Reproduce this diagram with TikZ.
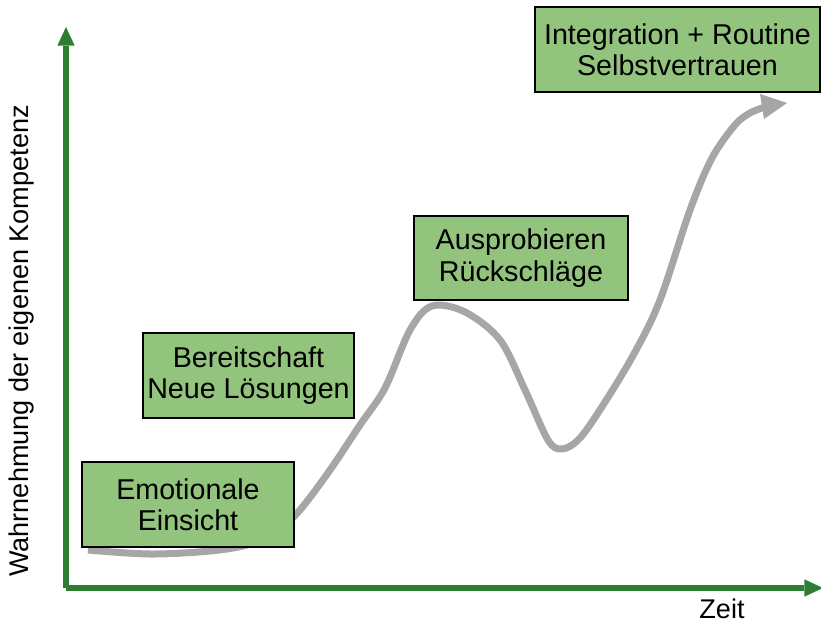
\documentclass[tikz,border=0pt]{standalone}
\usepackage{fontspec}
\setmainfont{Liberation Sans}
\usetikzlibrary{arrows.meta}
\definecolor{axisgreen}{RGB}{46,125,50}
\definecolor{boxgreen}{RGB}{147,196,125}
\definecolor{curvegray}{RGB}{166,166,166}
\tikzset{
  stagebox/.style={draw=black, line width=1pt, fill=boxgreen, align=center,
    font=\fontsize{21.5}{23.5}\selectfont, inner sep=0pt},
  axisline/.style={draw=axisgreen, line width=4.5pt,
    -{Triangle[length=14pt,width=13pt,line width=0pt]}},
  axislabel/.style={font=\fontsize{20.3}{22}\selectfont},
  growth/.style={draw=curvegray, line width=5.25pt},
  growthhead/.style={fill=curvegray, draw=none}
}
\begin{document}
\begin{tikzpicture}[x=0.75pt,y=-0.75pt]
\useasboundingbox (0,0) rectangle (821,623);
% axes
\coordinate (origin) at (66,588);
\coordinate (ytip) at (66,27);
\coordinate (xtip) at (823,588);
\draw[axisline] (origin) -- (ytip);
\draw[axisline] (origin) -- (xtip);
\node[axislabel, rotate=90] (ylab) at (22,341) {Wahrnehmung der eigenen Kompetenz};
\node[axislabel, anchor=base] (xlab) at (722,618) {Zeit};
% curve
\draw[growth] plot[smooth, tension=0.55] coordinates {
  (88,550) (150,554) (210,551) (250,544) (280,528) (300,510) (330,470)
  (360,425) (385,388) (410,330) (432,306) (465,312) (500,340) (525,390)
  (548,440) (562,449) (580,438) (605,402) (635,352) (660,300) (690,210)
  (712,158) (735,125) (750,113) (765,107)};
\coordinate (headtip) at (787,103);
\coordinate (headl) at (760,94);
\coordinate (headr) at (764,119);
\fill[growthhead] (headtip) -- (headl) -- (headr) -- cycle;
% boxes
\node[stagebox, minimum width=212pt*0.75, minimum height=85pt*0.75] (emo) at (188,504.5) {Emotionale\\Einsicht};
\node[stagebox, minimum width=211pt*0.75, minimum height=85pt*0.75] (bereit) at (248.5,375.5) {Bereitschaft\\Neue Lösungen};
\node[stagebox, minimum width=214pt*0.75, minimum height=84pt*0.75] (aus) at (521,258) {Ausprobieren\\Rückschläge};
\node[stagebox, minimum width=285pt*0.75, minimum height=85pt*0.75] (integ) at (677.5,49.5) {Integration + Routine\\Selbstvertrauen};
\end{tikzpicture}
\end{document}
